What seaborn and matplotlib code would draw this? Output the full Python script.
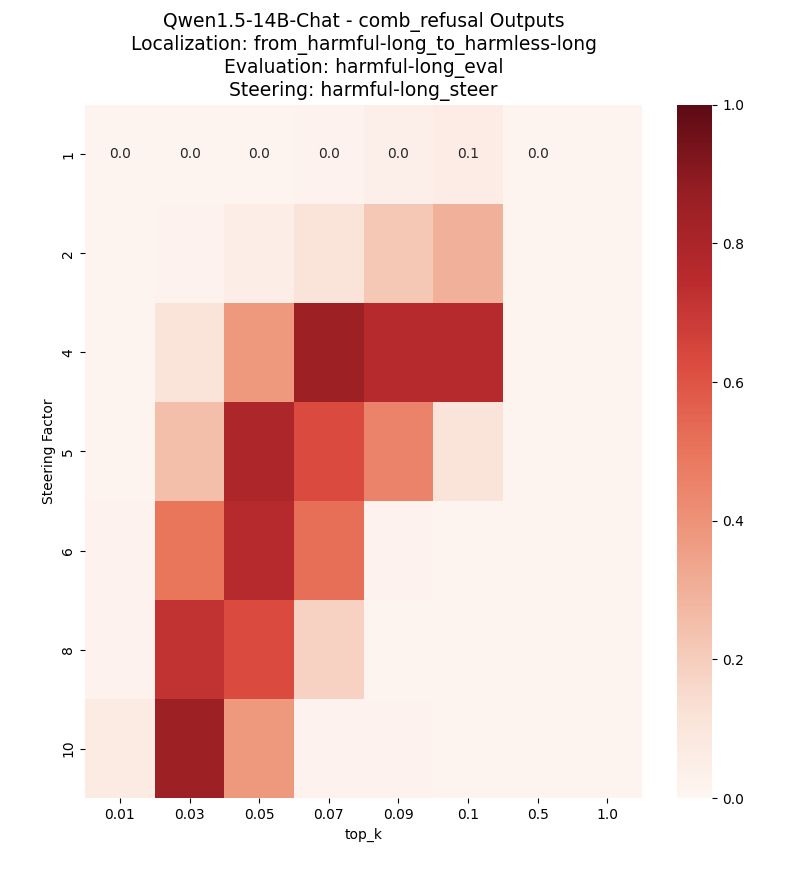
import numpy as np
import pandas as pd
import matplotlib
matplotlib.use("Agg")
import matplotlib.pyplot as plt
from matplotlib.colors import ListedColormap
import seaborn as sns

# Refusal rate per (steering factor, top_k)
top_k = ["0.01", "0.03", "0.05", "0.07", "0.09", "0.1", "0.5", "1.0"]
steering_factors = [1, 2, 4, 5, 6, 8, 10]

row_1 = [0.01, 0.01, 0.01, 0.02, 0.04, 0.06, 0.01, 0.01]
row_2 = [0.01, 0.02, 0.05, 0.12, 0.22, 0.30, 0.01, 0.01]
row_4 = [0.01, 0.12, 0.38, 0.85, 0.76, 0.76, 0.01, 0.01]
row_5 = [0.01, 0.25, 0.79, 0.63, 0.45, 0.12, 0.01, 0.01]
row_6 = [0.02, 0.50, 0.76, 0.52, 0.02, 0.01, 0.01, 0.01]
row_8 = [0.02, 0.72, 0.63, 0.18, 0.01, 0.01, 0.01, 0.01]
row_10 = [0.07, 0.85, 0.38, 0.02, 0.02, 0.01, 0.01, 0.01]

df = pd.DataFrame([row_1, row_2, row_4, row_5, row_6, row_8, row_10],
                  index=steering_factors, columns=top_k)

# Only the first row carries labels in the original (last cell left blank)
labels = np.full(df.shape, "", dtype=object)
labels[0, :7] = [f"{v:.1f}" for v in df.iloc[0, :7]]

# Slightly muted Reds, as in the original render
cmap = ListedColormap(sns.color_palette("Reds", 256, desat=0.8))

fig = plt.figure(figsize=(7.88, 8.8), dpi=100)
ax = fig.add_axes([0.108, 0.093, 0.707, 0.788])
cax = fig.add_axes([0.859, 0.093, 0.045, 0.788])

sns.heatmap(df, ax=ax, cbar_ax=cax, cmap=cmap, vmin=0, vmax=1,
            annot=labels, fmt="", annot_kws={"fontsize": 10})

ax.set_xlabel("top_k")
ax.set_ylabel("Steering Factor")
ax.set_title("Qwen1.5-14B-Chat - comb_refusal Outputs\n"
             "Localization: from_harmful-long_to_harmless-long\n"
             "Evaluation: harmful-long_eval\n"
             "Steering: harmful-long_steer", fontsize=13.5)

fig.savefig("out.png", dpi=100)
